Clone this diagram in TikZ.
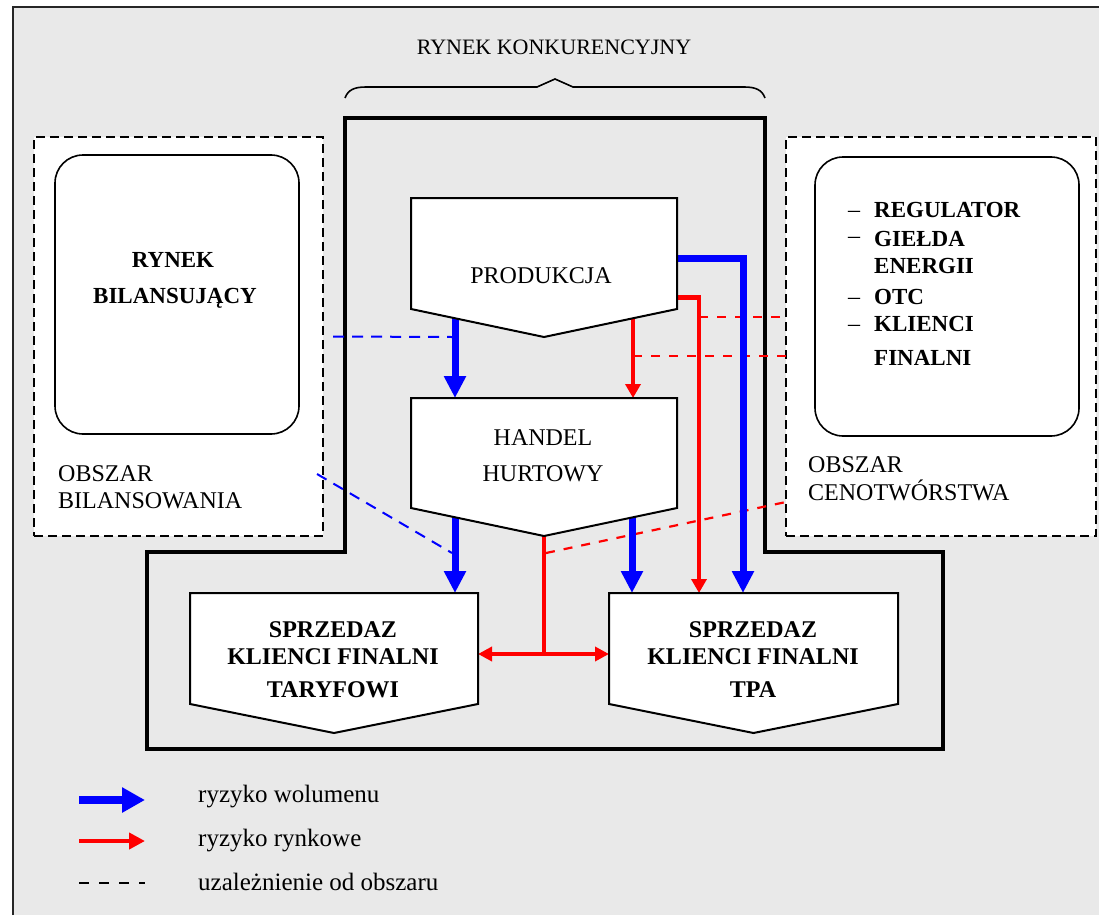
\documentclass[tikz,border=0pt]{standalone}
\usepackage{fontspec}
\setmainfont{Liberation Serif}
\usetikzlibrary{arrows.meta,calc}
\definecolor{bg}{RGB}{233,233,233}
\definecolor{myblue}{RGB}{0,0,255}
\definecolor{myred}{RGB}{255,0,0}
\begin{document}
\begin{tikzpicture}[x=1pt,y=-1pt,
  txt/.style={font=\fontsize{24}{28}\selectfont, inner sep=0pt},
  ttxt/.style={font=\fontsize{22}{26}\selectfont, inner sep=0pt},
  btxt/.style={font=\fontsize{23}{27}\selectfont\bfseries, inner sep=0pt},
  bbtxt/.style={font=\fontsize{24}{28}\selectfont\bfseries, inner sep=0pt},
  ltxt/.style={font=\fontsize{25}{29}\selectfont, inner sep=0pt},
  dbox/.style={draw, line width=2pt, dash pattern=on 9pt off 5pt, fill=white, inner sep=0pt, outer sep=0pt},
  rbox/.style={draw, line width=1.6pt, rounded corners=28pt, fill=white, inner sep=0pt, outer sep=0pt},
  docnode/.style={draw=none, inner sep=0pt, outer sep=0pt},
  docline/.style={draw, fill=white, line width=2pt, line join=miter},
  bluearr/.style={draw=myblue, line width=7pt, line join=miter, -{Triangle[width=21pt,length=22pt]}},
  redarr/.style={draw=myred, line width=3.6pt, line join=miter, -{Triangle[width=15pt,length=14pt]}},
  redline/.style={draw=myred, line width=3.6pt},
  reddash/.style={draw=myred, line width=2.2pt, dash pattern=on 9pt off 9pt},
  bluedash/.style={draw=myblue, line width=2pt, dash pattern=on 11pt off 8pt},
]
\useasboundingbox (0,0) rectangle (1099,915);
\fill[white] (0,0) rectangle (1099,915);
\fill[bg] (13,7) rectangle (1099,915);
\draw[line width=1.5pt, black!85] (13,915) -- (13,7) -- (1099,7);

% title and brace
\node[ttxt, anchor=base] (title) at (554,55) {RYNEK KONKURENCYJNY};
\draw[line width=1.6pt] (345,98) .. controls (348,90) and (354,87) .. (366,87) -- (537,87) -- (555,79) -- (573,87) -- (744,87) .. controls (756,87) and (762,90) .. (765,98);

% areas
\node[dbox, minimum width=289pt, minimum height=399pt] (lbox) at (178.5,336.5) {};
\node[dbox, minimum width=310pt, minimum height=399pt] (rbox) at (941,336.5) {};
\node[rbox, minimum width=244pt, minimum height=279pt] (lin) at (177,294.5) {};
\node[rbox, minimum width=264pt, minimum height=279pt] (rin) at (947,296.5) {};

% competitive market outline
\draw[line width=4pt, line join=miter] (345,118) -- (765,118) -- (765,552) -- (943,552) -- (943,749) -- (147,749) -- (147,552) -- (345,552) -- cycle;

% document-shaped nodes (rectangle part)
\node[docnode, minimum width=266pt, minimum height=111pt] (prod) at (544,253.5) {};
\node[docnode, minimum width=266pt, minimum height=110pt] (hand) at (544,453) {};
\node[docnode, minimum width=288pt, minimum height=111pt] (sl) at (334,648.5) {};
\node[docnode, minimum width=289pt, minimum height=111pt] (sr) at (753.5,648.5) {};
\coordinate (hv) at ($(hand.south)+(0,28)$);
\coordinate (j) at ($(hv)+(0,118)$);

% dashed dependencies
\draw[bluedash] ($(lbox.east)+(10,0)$) -- ($(prod.south west)+(41,28)$);
\draw[bluedash] ($(lbox.south east)+(-6,-62)$) -- ($(sl.north west)+(262,-40)$);
\draw[reddash] ($(prod.north east)+(22,119)$) -- ($(rbox.west)+(0,-19.5)$);
\draw[reddash] ($(prod.south west)+(222,47)$) -- ($(rbox.west)+(0,19.5)$);
\draw[reddash] ($(hv)+(2,17)$) -- ($(rbox.south west)+(0,-34)$);

% blue arrows (volume risk)
\draw[bluearr] ($(prod.south west)+(44,0)$) -- ($(hand.north west)+(44,0)$);
\draw[bluearr] ($(hand.south west)+(44,0)$) -- ($(sl.north west)+(265,0)$);
\draw[bluearr] ($(hand.south west)+(221,0)$) -- ($(sr.north west)+(23,0)$);
\draw[bluearr] ($(prod.north east)+(-4,60)$) -| ($(sr.north west)+(134,0)$);

% red arrows (market risk)
\draw[redarr] ($(prod.south west)+(222,0)$) -- ($(hand.north west)+(222,0)$);
\draw[redline, line width=5pt] ($(prod.north east)+(-4,99)$) -- ($(prod.north east)+(24,99)$);
\draw[redarr] ($(prod.north east)+(22,97)$) -- ($(sr.north west)+(90,0)$);
\draw[redline] (hv) -- (j);
\draw[draw=myred, line width=3.6pt, {Triangle[width=14pt,length=14pt]}-{Triangle[width=14pt,length=14pt]}] (sl.east |- j) -- (sr.west |- j);

% document shapes drawn on top
\foreach \n/\d in {prod/28,hand/28,sl/29,sr/29}
  \draw[docline] (\n.north west) -- (\n.north east) -- (\n.south east) -- ($(\n.south)+(0,\d)$) -- (\n.south west) -- cycle;

% texts in document shapes
\node[txt, anchor=base] (tprod) at (541,283) {PRODUKCJA};
\node[txt, anchor=base] (thand1) at (543,445) {HANDEL};
\node[txt, anchor=base] (thand2) at (543,481) {HURTOWY};
\node[bbtxt, anchor=base] (tsl1) at (333,637) {SPRZEDAZ};
\node[bbtxt, anchor=base] (tsl2) at (333,664) {KLIENCI FINALNI};
\node[bbtxt, anchor=base] (tsl3) at (333,697) {TARYFOWI};
\node[bbtxt, anchor=base] (tsr1) at (753,637) {SPRZEDAZ};
\node[bbtxt, anchor=base] (tsr2) at (753,664) {KLIENCI FINALNI};
\node[bbtxt, anchor=base] (tsr3) at (753,697) {TPA};

% left area texts
\node[btxt, anchor=base] (tl1) at (173,267) {RYNEK};
\node[btxt, anchor=base] (tl2) at (175,303) {BILANSUJĄCY};
\node[txt, anchor=base west] (tl3) at (58,481) {OBSZAR};
\node[txt, anchor=base west] (tl4) at (58,508) {BILANSOWANIA};

% right area texts
\node[txt, anchor=base west] (d1) at (848,217) {–};
\node[txt, anchor=base west] (d2) at (848,243) {–};
\node[txt, anchor=base west] (d3) at (848,304) {–};
\node[txt, anchor=base west] (d4) at (848,331) {–};
\node[btxt, anchor=base west] (tr1) at (874,217) {REGULATOR};
\node[btxt, anchor=base west] (tr2) at (874,246) {GIEŁDA};
\node[btxt, anchor=base west] (tr3) at (874,273) {ENERGII};
\node[btxt, anchor=base west] (tr4) at (874,304) {OTC};
\node[btxt, anchor=base west] (tr5) at (874,331) {KLIENCI};
\node[btxt, anchor=base west] (tr6) at (874,365) {FINALNI};
\node[txt, anchor=base west] (tr7) at (808,472) {OBSZAR};
\node[txt, anchor=base west] (tr8) at (808,500) {CENOTWÓRSTWA};

% legend
\coordinate (l1a) at (79,800); \coordinate (l1b) at (145,800);
\coordinate (l2a) at (79,841); \coordinate (l2b) at (145,841);
\coordinate (l3a) at (79,883); \coordinate (l3b) at (145,883);
\draw[draw=myblue, line width=8pt, -{Triangle[width=24pt,length=23pt]}] (l1a) -- (l1b);
\draw[draw=myred, line width=4.5pt, -{Triangle[width=16pt,length=16pt]}] (l2a) -- (l2b);
\draw[line width=2pt, dash pattern=on 10pt off 10pt] (l3a) -- (l3b);
\node[ltxt, anchor=base west] (lg1) at (198,802) {ryzyko wolumenu};
\node[ltxt, anchor=base west] (lg2) at (198,846) {ryzyko rynkowe};
\node[ltxt, anchor=base west] (lg3) at (198,890) {uzależnienie od obszaru};
\end{tikzpicture}
\end{document}
